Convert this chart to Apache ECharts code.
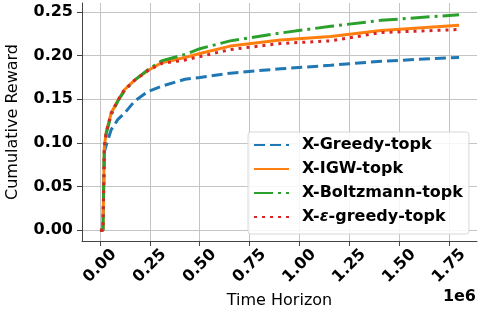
<!DOCTYPE html>
<html>
<head>
<meta charset="utf-8">
<script src="https://cdn.jsdelivr.net/npm/echarts@6/dist/echarts.min.js"></script>
<style>html,body{margin:0;padding:0;background:#fff}#c{width:481px;height:311px}</style>
</head>
<body>
<div id="c"></div>
<script>
const timeSteps = [0, 15000, 22000, 31000, 56000, 90000, 123000, 174000, 241000, 308000, 426000, 501000, 653000, 905000, 1157000, 1409000, 1800000];
const greedy = [0, 0, 0.09, 0.097, 0.115, 0.127, 0.134, 0.148, 0.159, 0.165, 0.173, 0.175, 0.180, 0.185, 0.189, 0.1937, 0.198];
const igw = [0, 0, 0.096, 0.112, 0.134, 0.149, 0.161, 0.172, 0.183, 0.192, 0.198, 0.2025, 0.211, 0.218, 0.222, 0.229, 0.2348];
const boltzmann = [0, 0, 0.094, 0.110, 0.132, 0.148, 0.160, 0.172, 0.184, 0.194, 0.2015, 0.208, 0.217, 0.226, 0.2337, 0.2405, 0.247];
const epsGreedy = [0, 0, 0.096, 0.112, 0.134, 0.149, 0.161, 0.172, 0.183, 0.191, 0.195, 0.199, 0.207, 0.214, 0.217, 0.2265, 0.230];
const seriesNames = ['X-Greedy-topk', 'X-IGW-topk', 'X-Boltzmann-topk', 'X-ε-greedy-topk'];
const xTicks = [0, 250000, 500000, 750000, 1000000, 1250000, 1500000, 1750000];
const yTicks = [0, 0.05, 0.10, 0.15, 0.20, 0.25];

const zip = ys => timeSteps.map((x, i) => [x, ys[i]]);
const font = 'DejaVu Sans';
const fs = 16;
const chart = echarts.init(document.getElementById('c'));
const lw = 3;
chart.setOption({
  animation: false,
  grid: {left: 82, right: 4, top: 3, bottom: 70, show: false, containLabel: false, outerBoundsMode: 'none'},
  xAxis: {
    type: 'value', min: -90000, max: 1890000,
    name: 'Time Horizon', nameLocation: 'middle', nameGap: 51,
    nameTextStyle: {fontFamily: font, fontSize: fs, color: '#000'},
    axisLine: {show: true, onZero: false, lineStyle: {color: '#444', width: 1}},
    axisTick: {show: true, length: 5, customValues: xTicks, lineStyle: {color: '#444'}},
    axisLabel: {customValues: xTicks, rotate: 45, align: 'center', verticalAlign: 'middle', margin: 25,
      fontFamily: font, fontWeight: 'bold', fontSize: fs, color: '#000',
      formatter: v => (v / 1e6).toFixed(2)},
    splitLine: {show: true, lineStyle: {color: '#c4c4c4', width: 1}}
  },
  yAxis: {
    type: 'value', min: -0.0124, max: 0.2604,
    name: 'Cumulative Reward', nameLocation: 'middle', nameGap: 61,
    nameTextStyle: {fontFamily: font, fontSize: fs, color: '#000'},
    axisLine: {show: true, onZero: false, lineStyle: {color: '#444', width: 1}},
    axisTick: {show: true, length: 5, customValues: yTicks, lineStyle: {color: '#444'}},
    axisLabel: {customValues: yTicks, margin: 9, fontFamily: font, fontWeight: 'bold', fontSize: fs, color: '#000',
      formatter: v => v.toFixed(2)},
    splitLine: {show: true, lineStyle: {color: '#c4c4c4', width: 1}}
  },
  legend: {
    data: seriesNames,
    orient: 'vertical', left: 248, top: 132,
    padding: [5, 6, 9, 5],
    backgroundColor: 'rgba(255,255,255,0.85)', borderColor: '#d8d8d8', borderWidth: 1, borderRadius: 3,
    itemWidth: 35, itemHeight: 16, itemGap: 8,
    itemStyle: {opacity: 0},
    textStyle: {fontFamily: font, fontWeight: 'bold', fontSize: fs, color: '#000', padding: [0, 0, 0, 8],
      rich: {b: {fontFamily: font, fontWeight: 'bold', fontSize: fs, color: '#000'},
             i: {fontFamily: font, fontStyle: 'italic', fontSize: fs, color: '#000'}}},
    formatter: n => n === 'X-ε-greedy-topk' ? '{b|X-}{i|ε}{b|-greedy-topk}' : n
  },
  graphic: [{type: 'text', right: 5, top: 289, style: {text: '1e6', font: 'bold 16px "DejaVu Sans"', fill: '#000'}}],
  series: [
    {name: seriesNames[0], type: 'line', data: zip(greedy), showSymbol: false, symbol: 'none', color: '#1f77b4',
      lineStyle: {width: lw, type: [11, 5], cap: 'butt'}},
    {name: seriesNames[1], type: 'line', data: zip(igw), showSymbol: false, symbol: 'none', color: '#ff7f0e',
      lineStyle: {width: lw, type: 'solid'}},
    {name: seriesNames[2], type: 'line', data: zip(boltzmann), showSymbol: false, symbol: 'none', color: '#2ca02c',
      lineStyle: {width: lw, type: [19, 5, 3, 5], cap: 'butt'}},
    {name: seriesNames[3], type: 'line', data: zip(epsGreedy), showSymbol: false, symbol: 'none', color: '#d62728',
      lineStyle: {width: lw, type: [3, 5], cap: 'butt'}}
  ]
});
</script>
</body>
</html>
